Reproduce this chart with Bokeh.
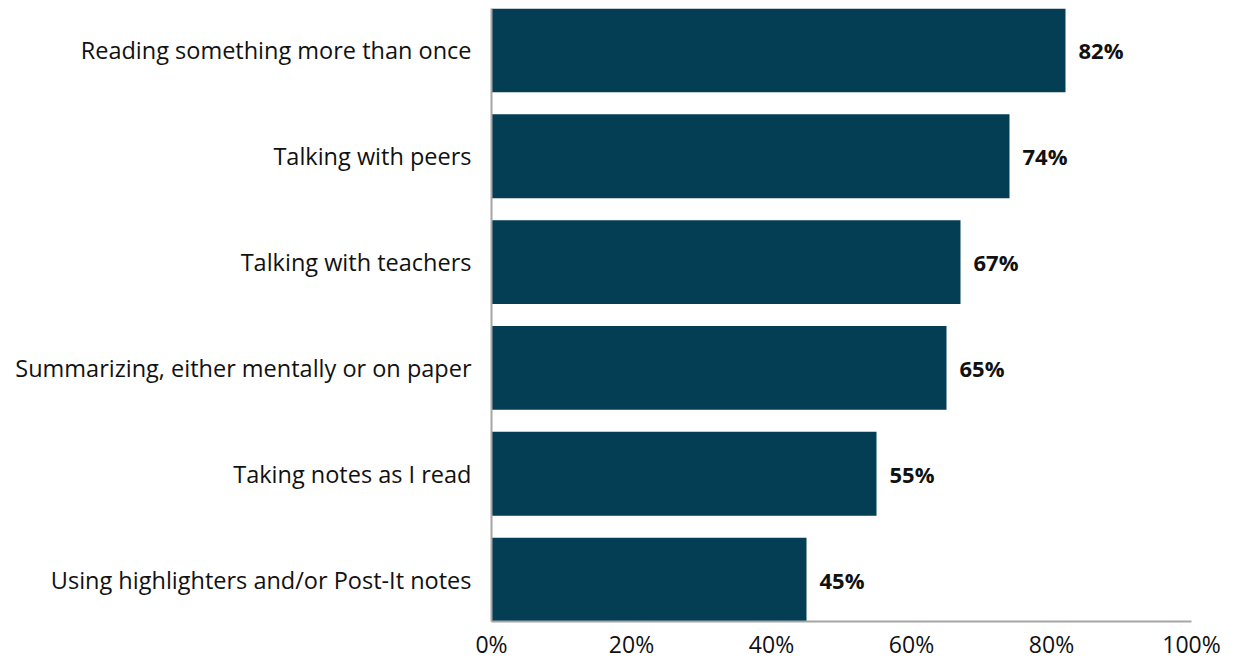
from bokeh.plotting import figure
from bokeh.models import FixedTicker, ColumnDataSource, LabelSet
from bokeh.core.properties import value
from bokeh.embed import file_html
from bokeh.resources import INLINE

categories = ["Reading something more than once", "Talking with peers", "Talking with teachers",
              "Summarizing, either mentally or on paper", "Taking notes as I read",
              "Using highlighters and/or Post-It notes"]
values = [82, 74, 67, 65, 55, 45]
x_ticks = [0, 20, 40, 60, 80, 100]
x_tick_labels = ["0%", "20%", "40%", "60%", "80%", "100%"]

n = len(categories)
ypos = [n - 1 - i for i in range(n)]
labels = [f"{v}%" for v in values]

src = ColumnDataSource(dict(y=ypos, v=values, lab=labels))

FONT = "Open Sans"
p = figure(width=1257, height=662, output_backend="svg", toolbar_location=None,
           x_range=(0, 100), y_range=(-0.396, n - 1 + 0.396),
           min_border_left=491, min_border_right=66, min_border_top=8, min_border_bottom=40)
p.hbar(y="y", right="v", left=0, height=0.792, source=src, fill_color="#043E54", line_color=None)

p.add_layout(LabelSet(x="v", y="y", text="lab", source=src, x_offset=13, y_offset=0,
                      text_baseline="middle", text_font=value(FONT), text_font_style="bold",
                      text_font_size="22px", text_color="#111111"))

p.xgrid.visible = False
p.ygrid.visible = False
p.outline_line_color = None

p.xaxis.ticker = FixedTicker(ticks=x_ticks)
p.xaxis.major_label_overrides = {t: l for t, l in zip(x_ticks, x_tick_labels)}
p.yaxis.ticker = FixedTicker(ticks=ypos)
p.yaxis.major_label_overrides = {y: c for y, c in zip(ypos, categories)}

for ax in (p.xaxis[0], p.yaxis[0]):
    ax.axis_line_color = "#a6a6a6"
    ax.axis_line_width = 2
    ax.major_tick_line_color = None
    ax.minor_tick_line_color = None
    ax.major_label_text_font = FONT
    ax.major_label_text_font_size = "23.5px"
    ax.major_label_text_color = "#111111"
p.xaxis.major_label_text_font_size = "23px"
p.xaxis.major_label_standoff = 0
p.yaxis.major_label_standoff = 14

open("out.html", "w").write(file_html(p, INLINE))
